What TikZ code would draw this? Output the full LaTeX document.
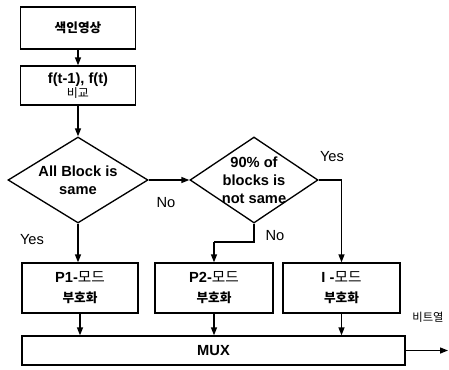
\documentclass[tikz,border=0pt]{standalone}
\usepackage{fontspec}
\setmainfont{Liberation Sans}
\newfontfamily\kr{Noto Sans CJK KR}
\newfontfamily\krb{Noto Sans CJK KR Bold}
\usetikzlibrary{shapes.geometric,arrows.meta}
\tikzset{
  box/.style={draw, line width=1pt, minimum height=#1, inner sep=0pt, align=center},
  dia/.style={draw, diamond, line width=1pt, inner sep=0pt},
  lbl/.style={font=\fontsize{11}{13.5}\selectfont\bfseries, align=center, inner sep=0pt},
  plain/.style={font=\fontsize{11}{13}\selectfont, inner sep=0pt},
  arr/.style={line width=1pt, -{Triangle[length=6pt,width=4.5pt]}},
  ln/.style={line width=1pt}
}
\begin{document}
\begin{tikzpicture}[x=0.75pt,y=-0.75pt]
\useasboundingbox (0,0) rectangle (449,369);
% boxes
\node[box=31.5pt, minimum width=86.25pt] (b1) at (78,28) {\kr\fontsize{9.5}{11}\selectfont\bfseries 색인영상};
\node[box=29.25pt, minimum width=86.25pt, font=\fontsize{11}{11}\selectfont\bfseries] (b2) at (78,85.5) {f(t-1), f(t)\\[-1pt]{\kr\mdseries\fontsize{9}{10}\selectfont 비교}};
% diamonds
\node[dia, minimum width=105pt, minimum height=64.5pt] (d1) at (78,180) {};
\node[lbl] (t1) at (d1.center) {All Block is\\same};
\node[dia, minimum width=96pt, minimum height=64.5pt] (d2) at (254,180) {};
\node[lbl] (t2) at (d2.center) {90\% of\\blocks is\\not same};
% mode boxes
\node[box=37.5pt, minimum width=87pt, font=\fontsize{11}{15}\selectfont\bfseries] (p1) at (80,288) {P1-{\kr\mdseries 모드}\\{\kr\bfseries\fontsize{9.5}{11}\selectfont 부호화}};
\node[box=37.5pt, minimum width=88.5pt, font=\fontsize{11}{15}\selectfont\bfseries] (p2) at (214,288) {P2-{\kr\mdseries 모드}\\{\kr\bfseries\fontsize{9.5}{11}\selectfont 부호화}};
\node[box=37.5pt, minimum width=87.75pt, font=\fontsize{11}{15}\selectfont\bfseries] (p3) at (341.5,288) {I -{\kr\mdseries 모드}\\{\kr\bfseries\fontsize{9.5}{11}\selectfont 부호화}};
\node[box=21.75pt, minimum width=287.25pt, font=\fontsize{11}{13}\selectfont\bfseries] (mux) at (213.5,350.5) {MUX};
% labels
\node[plain] (no1) at (166,203) {No};
\node[plain] (yes1) at (32,240) {Yes};
\node[plain] (yes2) at (332,157) {Yes};
\node[plain] (no2) at (275,236) {No};
\node[inner sep=0pt, font=\kr\fontsize{8.5}{10}\selectfont] (bits) at (428,317) {비트열};
% connectors
\coordinate (k1) at (254,242);
\coordinate (k2) at (214,242);
\coordinate (out) at (448,350.5);
\draw[arr] (b1) -- (b2);
\draw[arr] (b2) -- (d1.north);
\draw[arr] (d1.east) -- (d2.west);
\draw[arr] (d1.south) -- (d1.south |- p1.north);
\draw[arr] (d2.east) -| (p3.north);
\draw[ln] (d2.south) -- (k1) -- (k2);
\draw[arr] (k2) -- (p2.north);
\draw[arr] (p1.south) -- (p1.south |- mux.north);
\draw[arr] (p2.south) -- (p2.south |- mux.north);
\draw[arr] (p3.south) -- (p3.south |- mux.north);
\draw[arr] (mux.east) -- (out);
\end{tikzpicture}
\end{document}
